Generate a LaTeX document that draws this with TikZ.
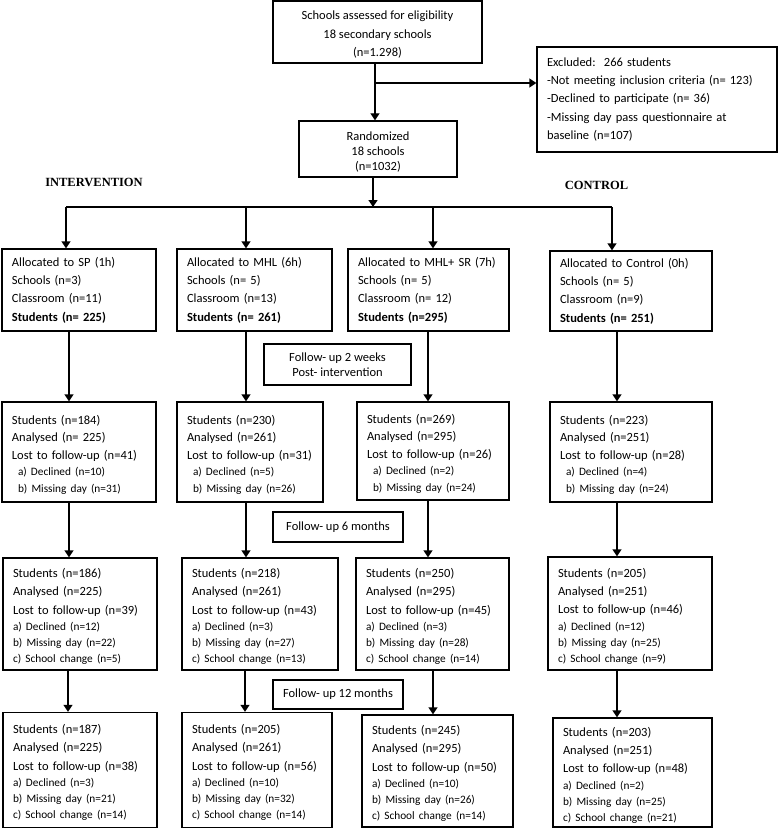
\documentclass[tikz,border=0pt]{standalone}
\usepackage{fontspec}
\setmainfont{Carlito}
\newfontfamily\headfont{Liberation Serif}
\usetikzlibrary{arrows.meta}
\newcommand\subln[1]{{\fontsize{11.3}{16}\selectfont #1}}
\newcommand\tup{\rule{0pt}{14.5pt}}
\begin{document}
\begin{tikzpicture}[x=1pt,y=-1pt,
  box/.style={draw, line width=1.35pt, inner xsep=10pt, inner ysep=0pt, align=left,
              font=\fontsize{12.5}{18.3}\selectfont},
  cbox/.style={draw, line width=1.35pt, inner sep=0pt, align=center,
              font=\fontsize{12.5}{18.5}\selectfont},
  arr/.style={line width=1.35pt, -{Triangle[length=7pt,width=9pt]}},
  ln/.style={line width=1.35pt},
  head/.style={inner sep=0pt, font=\fontsize{12.5}{15}\selectfont\headfont\bfseries}]
\useasboundingbox (0,0) rectangle (779,829);

% top
\node[cbox, minimum width=209pt, minimum height=62pt] (elig) at (377.5,32)
  {\tup Schools assessed for eligibility\\ 18 secondary schools\\ (n=1.298)};
\node[box, text width=220pt, minimum height=105pt, font=\fontsize{12.5}{18.25}\selectfont] (excl) at (657,99.5)
  {Excluded:\ \ 266 students\\ -Not meeting inclusion criteria (n= 123)\\ -Declined to participate (n= 36)\\ -Missing day pass questionnaire at\\ baseline (n=107)};
\node[cbox, minimum width=158pt, minimum height=56pt, font=\fontsize{12.5}{15.3}\selectfont] (rand) at (378,149)
  {\tup Randomized\\ 18 schools\\ (n=1032)};

\node[head] (hint) at (94,182) {INTERVENTION};
\node[head] (hctl) at (596.5,185) {CONTROL};

% row 1
\node[box, text width=134pt, minimum height=82pt] (sp1) at (79,290)
  {Allocated to SP (1h)\\ Schools (n=3)\\ Classroom (n=11)\\ \textbf{Students (n= 225)}};
\node[box, text width=135pt, minimum height=82pt] (mhl1) at (254.5,290)
  {Allocated to MHL (6h)\\ Schools (n= 5)\\ Classroom (n=13)\\ \textbf{Students (n= 261)}};
\node[box, text width=141pt, minimum height=82pt] (msr1) at (428.5,290)
  {Allocated to MHL+ SR (7h)\\ Schools (n= 5)\\ Classroom (n= 12)\\ \textbf{Students (n=295)}};
\node[box, text width=142pt, minimum height=80pt] (ctl1) at (631,291)
  {Allocated to Control (0h)\\ Schools (n= 5)\\ Classroom (n=9)\\ \textbf{Students (n= 251)}};

% follow-up labels
\node[cbox, minimum width=147pt, minimum height=41pt, font=\fontsize{12.5}{14.5}\selectfont] (fu1) at (337.5,364.5)
  {Follow- up 2 weeks\\ Post- intervention};
\node[cbox, minimum width=130pt, minimum height=30pt] (fu2) at (338,527) {Follow- up 6 months};
\node[cbox, minimum width=130pt, minimum height=29pt] (fu3) at (338,694.5) {Follow- up 12 months};

% row 2
\tikzset{r2/.style={font=\fontsize{12.5}{17.6}\selectfont}}
\node[box, r2, text width=134pt, minimum height=100pt] (sp2) at (79,452)
  {\tup Students (n=184)\\ Analysed (n= 225)\\ Lost to follow-up (n=41)\\[-1.3pt] \hspace*{6pt}\subln{a) Declined (n=10)}\\[-0.8pt] \hspace*{6pt}\subln{b) Missing day (n=31)}};
\node[box, r2, text width=126pt, minimum height=100pt] (mhl2) at (250,452)
  {\tup Students (n=230)\\ Analysed (n=261)\\ Lost to follow-up (n=31)\\[-1.3pt] \hspace*{6pt}\subln{a) Declined (n=5)}\\[-0.8pt] \hspace*{6pt}\subln{b) Missing day (n=26)}};
\node[box, r2, text width=132pt, minimum height=98pt] (msr2) at (433,451)
  {\tup Students (n=269)\\ Analysed (n=295)\\ Lost to follow-up (n=26)\\[-1.3pt] \hspace*{6pt}\subln{a) Declined (n=2)}\\[-0.8pt] \hspace*{6pt}\subln{b) Missing day (n=24)}};
\node[box, r2, text width=142pt, minimum height=100pt] (ctl2) at (631,452)
  {\tup Students (n=223)\\ Analysed (n=251)\\ Lost to follow-up (n=28)\\[-1.3pt] \hspace*{6pt}\subln{a) Declined (n=4)}\\[-0.8pt] \hspace*{6pt}\subln{b) Missing day (n=24)}};

% row 3
\node[box, text width=134pt, minimum height=112pt] (sp3) at (80,614)
  {\tup Students (n=186)\\ Analysed (n=225)\\ Lost to follow-up (n=39)\\[-1.5pt] \subln{a) Declined (n=12)}\\[-2.3pt] \subln{b) Missing day (n=22)}\\[-2.3pt] \subln{c) School change (n=5)}};
\node[box, text width=136pt, minimum height=112pt] (mhl3) at (260,614)
  {\tup Students (n=218)\\ Analysed (n=261)\\ Lost to follow-up (n=43)\\[-1.5pt] \subln{a) Declined (n=3)}\\[-2.3pt] \subln{b) Missing day (n=27)}\\[-2.3pt] \subln{c) School change (n=13)}};
\node[box, text width=133pt, minimum height=112pt] (msr3) at (432.5,614)
  {\tup Students (n=250)\\ Analysed (n=295)\\ Lost to follow-up (n=45)\\[-1.5pt] \subln{a) Declined (n=3)}\\[-2.3pt] \subln{b) Missing day (n=28)}\\[-2.3pt] \subln{c) School change (n=14)}};
\node[box, text width=144pt, minimum height=113pt] (ctl3) at (630,613.5)
  {\tup Students (n=205)\\ Analysed (n=251)\\ Lost to follow-up (n=46)\\[-1.5pt] \subln{a) Declined (n=12)}\\[-2.3pt] \subln{b) Missing day (n=25)}\\[-2.3pt] \subln{c) School change (n=9)}};

% row 4
\node[box, text width=134pt, minimum height=115pt] (sp4) at (80,770)
  {\tup Students (n=187)\\ Analysed (n=225)\\ Lost to follow-up (n=38)\\[-1.5pt] \subln{a) Declined (n=3)}\\[-2.3pt] \subln{b) Missing day (n=21)}\\[-2.3pt] \subln{c) School change (n=14)}};
\node[box, text width=130pt, minimum height=115pt] (mhl4) at (257,770)
  {\tup Students (n=205)\\ Analysed (n=261)\\ Lost to follow-up (n=56)\\[-1.5pt] \subln{a) Declined (n=10)}\\[-2.3pt] \subln{b) Missing day (n=32)}\\[-2.3pt] \subln{c) School change (n=14)}};
\node[box, text width=131pt, minimum height=112pt] (msr4) at (437.5,771)
  {\tup Students (n=245)\\ Analysed (n=295)\\ Lost to follow-up (n=50)\\[-1.5pt] \subln{a) Declined (n=10)}\\[-2.3pt] \subln{b) Missing day (n=26)}\\[-2.3pt] \subln{c) School change (n=14)}};
\node[box, text width=139pt, minimum height=109pt] (ctl4) at (632.5,772.5)
  {\tup Students (n=203)\\ Analysed (n=251)\\ Lost to follow-up (n=48)\\[-1.5pt] \subln{a) Declined (n=2)}\\[-2.3pt] \subln{b) Missing day (n=25)}\\[-2.3pt] \subln{c) School change (n=21)}};

% connectors at top
\coordinate (ev) at (375,0);
\coordinate (ej) at (375,83);
\draw[arr] (elig.south -| ev) -- (rand.north -| ev);
\draw[arr] (ej) -- (excl.west |- ej);

\coordinate (br) at (373,207);
\coordinate (b1) at (66,207);
\coordinate (b2) at (246,207);
\coordinate (b3) at (433,207);
\coordinate (b4) at (612,207);
\draw[arr] (rand.south -| br) -- (br);
\draw[ln] (b1) -- (b4);
\draw[arr] (b1) -- (sp1.north -| b1);
\draw[arr] (b2) -- (mhl1.north -| b2);
\draw[arr] (b3) -- (msr1.north -| b3);
\draw[arr] (b4) -- (ctl1.north -| b4);

% columns
\coordinate (k1) at (69,0);
\coordinate (k2) at (246,0);
\coordinate (k3) at (428,0);
\coordinate (k4) at (617,0);
\coordinate (m1) at (68,0);
\coordinate (m2) at (245,0);
\coordinate (m3) at (433,0);

\draw[arr] (sp1.south -| k1) -- (sp2.north -| k1);
\draw[arr] (mhl1.south -| k2) -- (mhl2.north -| k2);
\draw[arr] (msr1.south -| k3) -- (msr2.north -| k3);
\draw[arr] (ctl1.south -| k4) -- (ctl2.north -| k4);

\draw[arr] (sp2.south -| k1) -- (sp3.north -| k1);
\draw[arr] (mhl2.south -| k2) -- (mhl3.north -| k2);
\draw[arr] (msr2.south -| k3) -- (msr3.north -| k3);
\draw[arr] (ctl2.south -| k4) -- (ctl3.north -| k4);

\draw[arr] (sp3.south -| m1) -- (sp4.north -| m1);
\draw[arr] (mhl3.south -| m2) -- (mhl4.north -| m2);
\draw[arr] (msr3.south -| m3) -- (msr4.north -| m3);
\draw[arr] (ctl3.south -| k4) -- (ctl4.north -| k4);
\end{tikzpicture}
\end{document}
